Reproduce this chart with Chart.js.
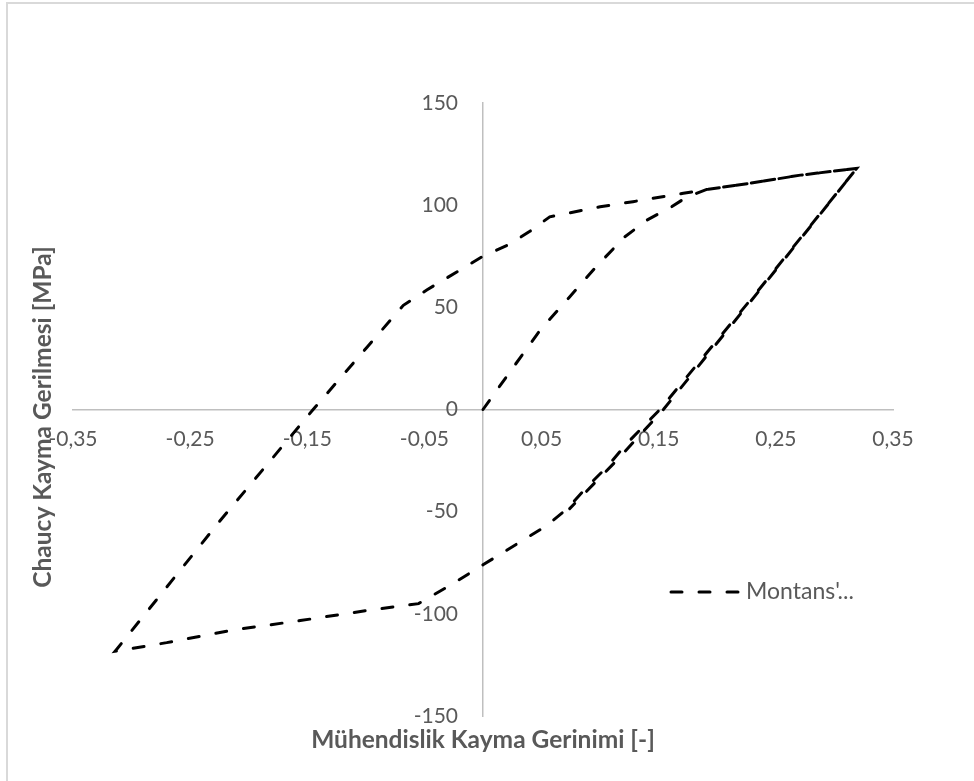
<!DOCTYPE html>
<html>
<head>
<meta charset="utf-8">
<script src="https://cdn.jsdelivr.net/npm/chart.js@4.4.0/dist/chart.umd.min.js"></script>
<style>
html, body { margin: 0; padding: 0; background: #fff; overflow: hidden; }
#marco { position: absolute; left: 6px; top: 2px; width: 1000px; height: 820px; border: 2px solid #d9d9d9; }
#caja { position: absolute; left: 0; top: 0; width: 974px; height: 781px; }
</style>
</head>
<body>
<div id="marco"></div>
<div id="caja"><canvas id="chart"></canvas></div>
<script>
// Datos (deformacion / tension), en orden de carga
var deformacion = [
    0, 0.025, 0.049, 0.073, 0.096, 0.121, 0.14, 0.161, 0.174, 0.191, 0.228, 0.271, 0.319,
    0.236, 0.151, 0.123, 0.106, 0.089, 0.072, 0.054, 0.034, 0, -0.025, -0.055, -0.096, -0.156, -0.213, -0.27, -0.314,
    -0.226, -0.145, -0.099, -0.068, -0.048, 0, 0.023, 0.04, 0.057, 0.1, 0.128, 0.171, 0.191, 0.228, 0.271, 0.319,
    0.237, 0.154, 0.114, 0.074
];
var tension = [
    0, 20, 39, 54.5, 69.5, 84.5, 92.7, 99.2, 104, 107.7, 110.7, 114.7, 118,
    59, 0, -16.5, -28, -37.8, -48.5, -57, -64, -76, -85, -95, -98.1, -103.3, -107.9, -114.1, -118.3,
    -55.5, 0, 30.5, 51, 58.5, 75, 81, 87.2, 94.3, 99.2, 101.7, 105.8, 107.7, 110.7, 114.7, 118,
    59, 0, -25, -48.5
];
var xTicks = [-0.35, -0.25, -0.15, -0.05, 0.05, 0.15, 0.25, 0.35];
var yTicks = [-150, -100, -50, 0, 50, 100, 150];

var nombreSerie = "Montans'...";
var tituloX = "Mühendislik Kayma Gerinimi [-]";
var tituloY = "Chaucy Kayma Gerilmesi [MPa]";

var puntos = deformacion.map((x, i) => ({x: x, y: tension[i]}));
var gris = '#595959';

// Titulos de ejes y leyenda dibujados a mano
var extras = {
    id: 'extras',
    afterDraw(chart) {
        var ctx = chart.ctx;
        var ds = chart.data.datasets[0];
        ctx.save();
        ctx.fillStyle = gris;
        ctx.font = 'bold 24.5px Lato';
        ctx.textAlign = 'center';
        ctx.textBaseline = 'middle';
        ctx.fillText(tituloX, chart.scales.x.getPixelForValue(0), 740);
        ctx.save();
        ctx.translate(43, 417);
        ctx.rotate(-Math.PI / 2);
        ctx.fillText(tituloY, 0, 0);
        ctx.restore();

        // leyenda
        ctx.strokeStyle = ds.borderColor;
        ctx.lineWidth = ds.borderWidth;
        ctx.lineCap = 'round';
        ctx.setLineDash(ds.borderDash);
        ctx.beginPath();
        ctx.moveTo(671, 592);
        ctx.lineTo(740, 592);
        ctx.stroke();
        ctx.setLineDash([]);
        ctx.font = '23px Lato';
        ctx.textAlign = 'left';
        ctx.fillText(nombreSerie, 746, 592);
        ctx.restore();
    }
};

var ctx = document.getElementById("chart").getContext("2d");
var chart = new Chart(ctx, {
    type: "scatter",
    data: {
        datasets: [{
            label: nombreSerie,
            data: puntos,
            showLine: true,
            borderColor: "#000000",
            borderWidth: 3,
            borderDash: [11, 17],
            borderCapStyle: "round",
            tension: 0,
            pointRadius: 0,
            pointHoverRadius: 0
        }]
    },
    options: {
        responsive: true,
        maintainAspectRatio: false,
        animation: false,
        layout: {padding: {left: 73, right: 81, top: 103, bottom: 65}},
        plugins: {legend: {display: false}, tooltip: {enabled: false}},
        scales: {
            x: {
                type: "linear",
                position: "center",
                min: -0.35, max: 0.35,
                afterBuildTicks: s => { s.ticks = xTicks.map(v => ({value: v})); },
                grid: {display: false, drawTicks: true, tickLength: 7},
                border: {display: true, color: "#bfbfbf", width: 1.5},
                ticks: {
                    color: gris,
                    font: {family: "Lato", size: 21},
                    padding: 10,
                    maxRotation: 0,
                    callback: v => v.toFixed(2).replace(".", ",")
                }
            },
            y: {
                type: "linear",
                position: "center",
                min: -150, max: 150,
                afterBuildTicks: s => { s.ticks = yTicks.map(v => ({value: v})); },
                grid: {display: false, drawTicks: true, tickLength: 22},
                border: {display: true, color: "#bfbfbf", width: 1.5},
                ticks: {
                    color: gris,
                    font: {family: "Lato", size: 21},
                    callback: v => String(v)
                }
            }
        }
    },
    plugins: [extras]
});
</script>
</body>
</html>
